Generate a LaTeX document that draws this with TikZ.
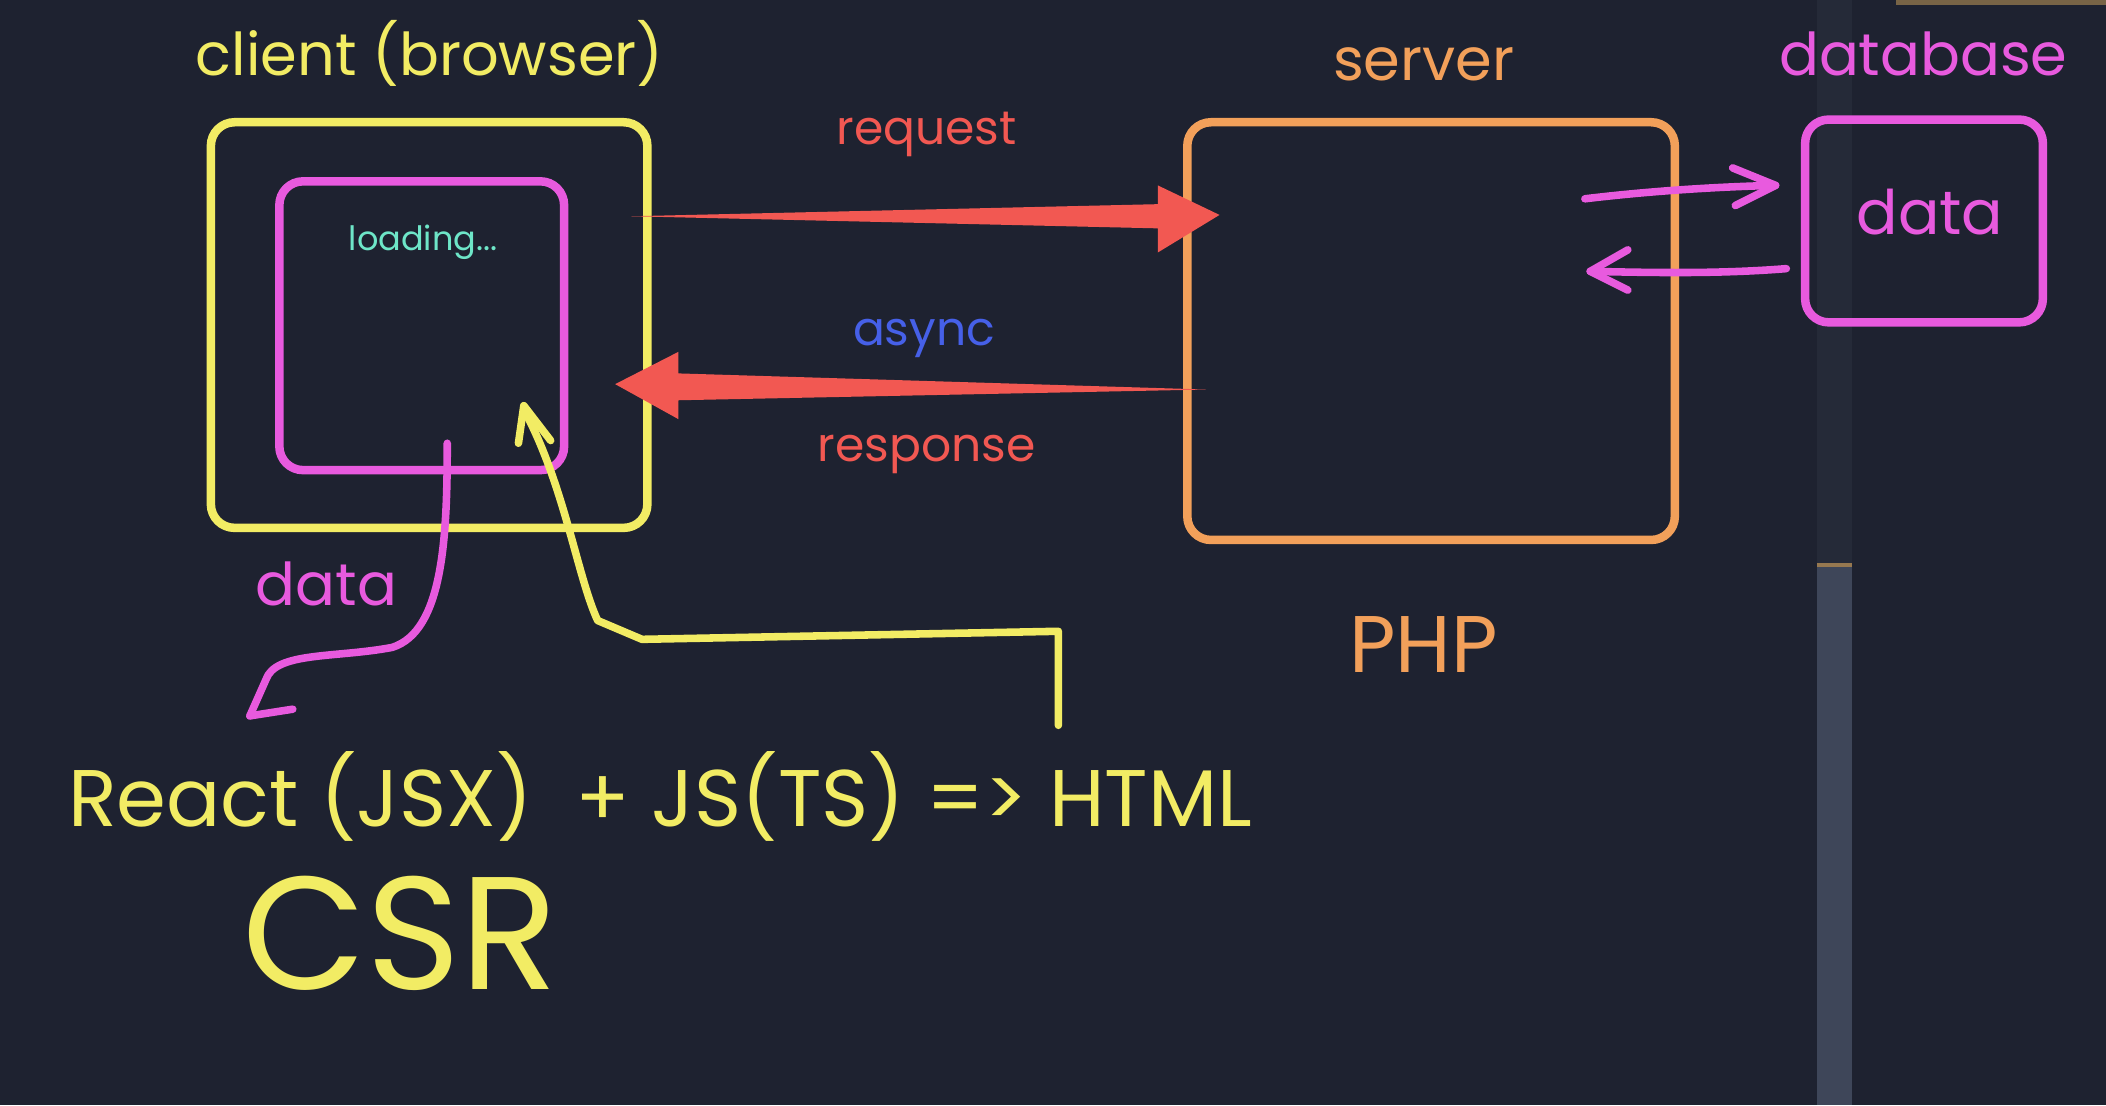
\documentclass[tikz,border=0pt]{standalone}
\usepackage{fontspec}
\setmainfont{Poppins}
\begin{document}
\begin{tikzpicture}[x=0.01cm,y=-0.01cm,
 bx/.style={line width=1.8pt,rounded corners=5pt},
 pen/.style={line width=1.6pt,line cap=round,line join=round},
 lbl/.style={inner sep=0pt,anchor=center}]
\definecolor{bg}{RGB}{30,34,48}
\definecolor{yel}{RGB}{242,236,100}
\definecolor{mag}{RGB}{232,90,222}
\definecolor{org}{RGB}{242,160,90}
\definecolor{redc}{RGB}{242,88,82}
\definecolor{blu}{RGB}{70,96,232}
\definecolor{teal}{RGB}{110,230,200}
\fill[bg] (0,0) rectangle (1568,823);
\useasboundingbox (0,0) rectangle (1568,823);
\fill[color={rgb,255:red,37;green,42;blue,56}] (1353,0) rectangle (1379,823);
\fill[color={rgb,255:red,62;green,70;blue,89}] (1353,422) rectangle (1379,823);
\fill[color={rgb,255:red,150;green,120;blue,80}] (1353,419) rectangle (1379,422);
\fill[color={rgb,255:red,120;green,100;blue,70}] (1412,0) rectangle (1568,4);
% boxes
\draw[bx,yel] (157,91) rectangle (482,393);
\draw[bx,mag] (208,135) rectangle (420,350);
\draw[bx,org] (884,91) rectangle (1247,402);
\draw[bx,mag] (1344,89) rectangle (1521,240);
% texts
\node[lbl,yel,font=\fontsize{12.5}{14}\selectfont] (t1) at (320,40) {client (browser)};
\node[lbl,teal,font=\fontsize{7.1}{9}\selectfont] (t2) at (315,180) {loading...};
\node[lbl,org,font=\fontsize{12.5}{14}\selectfont] (t3) at (1060,48) {server};
\node[lbl,mag,font=\fontsize{12.5}{14}\selectfont] (t4) at (1432,40) {database};
\node[lbl,mag,font=\fontsize{13}{15}\selectfont] (t5) at (1437,158) {data};
\node[lbl,org,font=\fontsize{17}{19}\selectfont] (t6) at (1060,480) {PHP};
\node[lbl,redc,font=\fontsize{10}{12}\selectfont] (t7) at (690,100) {request};
\node[lbl,blu,font=\fontsize{10}{12}\selectfont] (t8) at (688,252) {async};
\node[lbl,redc,font=\fontsize{10}{12}\selectfont] (t9) at (690,338) {response};
\node[lbl,mag,font=\fontsize{12.5}{14}\selectfont] (t10) at (243,435) {data};
\node[lbl,yel,font=\fontsize{17}{19}\selectfont,anchor=west] (t11) at (50,593) {React (JSX)\ \ + JS(TS) => HTML};
\node[lbl,yel,font=\fontsize{34}{36}\selectfont] (t12) at (298,695) {CSR};
% tapered arrows
\fill[redc] (470,161) -- (862,152) -- (862,138) -- (908,160) -- (862,188) -- (862,170) -- cycle;
\fill[redc] (898,290) -- (505,278) -- (505,262) -- (458,286) -- (505,312) -- (505,298) -- cycle;
% magenta db arrows
\draw[pen,mag] (1180,148) .. controls (1230,142) and (1280,139) .. (1322,138);
\draw[pen,mag] (1290,125) -- (1322,138) -- (1292,153);
\draw[pen,mag] (1330,200) .. controls (1280,204) and (1230,203) .. (1184,202);
\draw[pen,mag] (1212,186) -- (1184,202) -- (1212,216);
% data curve
\draw[pen,mag] (333,330) .. controls (333,400) and (330,470) .. (292,482) .. controls (250,490) and (205,485) .. (198,506) -- (186,533);
\draw[pen,mag] (186,533) -- (218,528);
% yellow
\draw[pen,yel] (788,540) -- (788,470) -- (478,476) -- (445,462) .. controls (430,430) and (420,360) .. (390,305);
\draw[pen,yel] (386,330) -- (390,302) -- (410,328);
\end{tikzpicture}
\end{document}
